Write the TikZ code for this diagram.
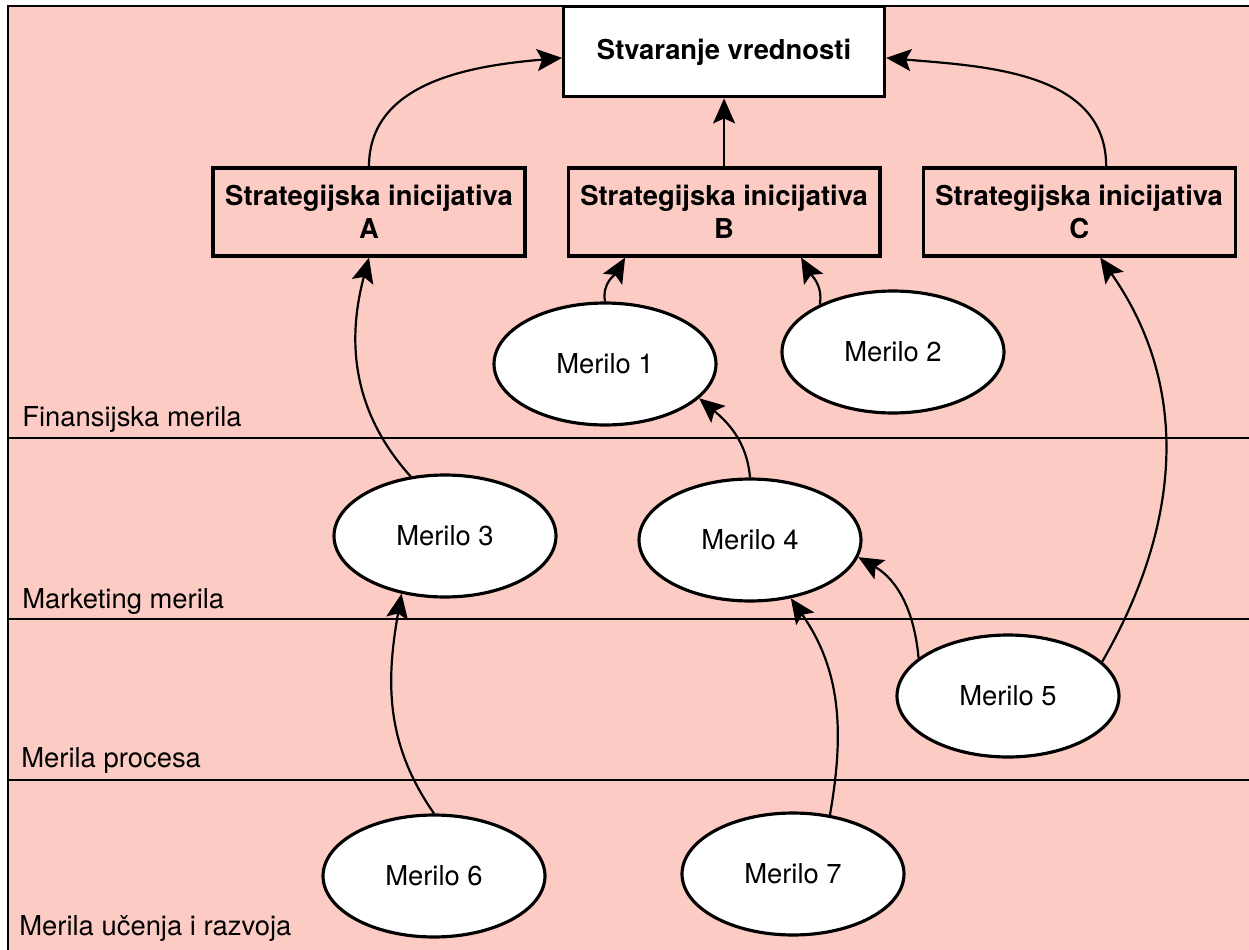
\documentclass[tikz,border=0pt]{standalone}
\usepackage{fontspec}
\setmainfont{TeX Gyre Heros}
\usepackage{xcolor}
\definecolor{bgpink}{HTML}{FCCCC4}
\usepackage{tikz}
\usetikzlibrary{positioning,arrows.meta,shapes.geometric}
\newcommand{\diagfont}{\fontsize{15.6}{18.8}\selectfont}

\begin{document}
\begin{tikzpicture}[x=0.02cm,y=0.02cm,node distance=0.8cm, % one unit = one pixel of the original
    inic/.style={rectangle,draw,line width=1.8pt,minimum width=6.24cm,minimum height=1.76cm,inner sep=0pt,align=center,font=\diagfont\bfseries},
    merilo/.style={ellipse,draw,line width=1.8pt,fill=white,minimum width=4.44cm,minimum height=2.44cm,inner sep=0pt,font=\diagfont},
    sloj/.style={inner sep=0pt,anchor=base west,font=\diagfont},
    granica/.style={line width=1.2pt},
    veza/.style={-{Stealth[length=0.5cm,width=0.44cm,inset=0.1cm]},line width=1.25pt}]
                % Background and layer borders
                \useasboundingbox (0,0) rectangle (1249,-950);
                \fill[bgpink] (8,-6) rectangle (1249,-950);
                \draw[granica] (8,-950) -- (8,-6) -- (1249,-6);
                \draw[granica] (8,-438) -- (1249,-438);
                \draw[granica] (8,-619) -- (1249,-619);
                \draw[granica] (8,-780) -- (1249,-780);
                \node[sloj] (fin) at (22,-426) {Finansijska merila};
                \node[sloj] (mar) at (22,-608) {Marketing merila};
                \node[sloj] (pro) at (21,-767) {Merila procesa};
                \node[sloj] (ucr) at (19,-935) {Merila učenja i razvoja};
                % Initiatives and value box
                \node[inic] (sA) at (369,-212) {Strategijska inicijativa\\A};
                \node[inic,right=of sA] (sB) {Strategijska inicijativa\\B};
                \node[inic,right=of sB] (sC) {Strategijska inicijativa\\C};
                \node[inic,fill=white,minimum width=6.42cm,minimum height=1.8cm,above=1.36cm of sB] (vred) {Stvaranje vrednosti};
                % Measures
                \node[merilo] (m1) at (605,-364) {Merilo 1};
                \node[merilo] (m2) at (893,-352) {Merilo 2};
                \node[merilo] (m3) at (445,-536) {Merilo 3};
                \node[merilo] (m4) at (750,-540) {Merilo 4};
                \node[merilo] (m5) at (1008,-696) {Merilo 5};
                \node[merilo] (m6) at (434,-876) {Merilo 6};
                \node[merilo] (m7) at (793,-874) {Merilo 7};
                % Connections
                \draw[veza] (sA.north) to[out=90,in=185] ([yshift=-0.12cm]vred.west);
                \draw[veza] (sB.north) -- (sB.north |- vred.south);
                \draw[veza] ([xshift=0.54cm]sC.north) to[out=90,in=-5] ([yshift=-0.12cm]vred.east);
                \draw[veza] (m1.north) to[out=100,in=-120] ([xshift=-1.98cm]sB.south);
                \draw[veza] (m2.147) to[out=80,in=-60] ([xshift=1.54cm]sB.south);
                \draw[veza] (m3.120) to[out=132,in=-105] (sA.south);
                \draw[veza] (m4.north) to[out=95,in=-40] (m1.-20);
                \draw[veza] (m5.157) to[out=95,in=-30] (m4.-9);
                \draw[veza] (m5.20) to[out=60,in=-55] ([xshift=0.42cm]sC.south);
                \draw[veza] (m6.north) to[out=125,in=-100] (m3.-127);
                \draw[veza] (m7.58) to[out=80,in=-55] (m4.-55);
\end{tikzpicture}
\end{document}
